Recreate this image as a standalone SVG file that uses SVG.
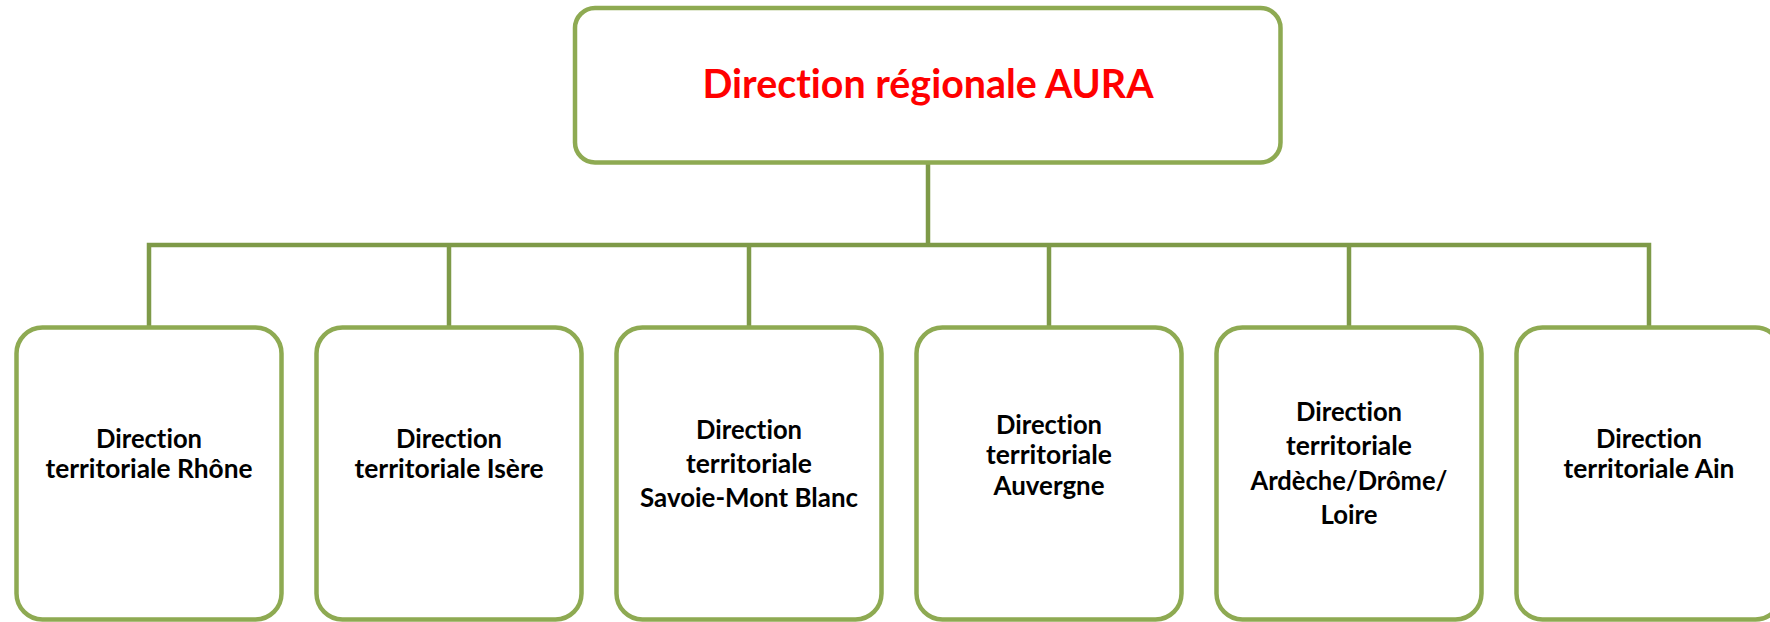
<svg xmlns="http://www.w3.org/2000/svg" width="1770" height="622" viewBox="0 0 1770 622">
<style>
.box{fill:#ffffff;stroke:#8EAA52;stroke-width:4.5}
.conn{fill:none;stroke:#7E9A48;stroke-width:4.5;stroke-linejoin:miter}
.t{font-family:Lato,"Liberation Sans",sans-serif;font-weight:bold;font-size:26px;fill:#000000;text-anchor:middle;font-variant-ligatures:none}
.title{font-family:Lato,"Liberation Sans",sans-serif;font-weight:bold;font-size:40px;fill:#FF0000;text-anchor:middle;font-variant-ligatures:none}
</style>
<rect width="1770" height="622" fill="#ffffff"/>
<g id="connectors">
<path class="conn" d="M928,162 V245"/>
<path class="conn" d="M149,327 V245 H1649 V327"/>
<path class="conn" d="M449,245 V327"/>
<path class="conn" d="M749,245 V327"/>
<path class="conn" d="M1049,245 V327"/>
<path class="conn" d="M1349,245 V327"/>
</g>
<g id="node-aura">
<rect class="box" x="575" y="8" width="705.5" height="154.5" rx="20"/>
<text class="title" x="928" y="98" textLength="451" lengthAdjust="spacingAndGlyphs">Direction régionale AURA</text>
</g>
<g id="node-rhone">
<rect class="box" x="16.5" y="327.5" width="265" height="292" rx="26"/>
<text class="t" x="149" y="448" textLength="106" lengthAdjust="spacingAndGlyphs">Direction</text>
<text class="t" x="149" y="478" textLength="207" lengthAdjust="spacingAndGlyphs">territoriale Rhône</text>
</g>
<g id="node-isere">
<rect class="box" x="316.5" y="327.5" width="265" height="292" rx="26"/>
<text class="t" x="449" y="448" textLength="106" lengthAdjust="spacingAndGlyphs">Direction</text>
<text class="t" x="449" y="478" textLength="189" lengthAdjust="spacingAndGlyphs">territoriale Isère</text>
</g>
<g id="node-savoie">
<rect class="box" x="616.5" y="327.5" width="265" height="292" rx="26"/>
<text class="t" x="749" y="439" textLength="106" lengthAdjust="spacingAndGlyphs">Direction</text>
<text class="t" x="749" y="473" textLength="126" lengthAdjust="spacingAndGlyphs">territoriale</text>
<text class="t" x="749" y="507" textLength="218" lengthAdjust="spacingAndGlyphs">Savoie-Mont Blanc</text>
</g>
<g id="node-auvergne">
<rect class="box" x="916.5" y="327.5" width="265" height="292" rx="26"/>
<text class="t" x="1049" y="434" textLength="106" lengthAdjust="spacingAndGlyphs">Direction</text>
<text class="t" x="1049" y="464" textLength="126" lengthAdjust="spacingAndGlyphs">territoriale</text>
<text class="t" x="1049" y="495" textLength="111" lengthAdjust="spacingAndGlyphs">Auvergne</text>
</g>
<g id="node-ardeche">
<rect class="box" x="1216.5" y="327.5" width="265" height="292" rx="26"/>
<text class="t" x="1349" y="421" textLength="106" lengthAdjust="spacingAndGlyphs">Direction</text>
<text class="t" x="1349" y="455" textLength="126" lengthAdjust="spacingAndGlyphs">territoriale</text>
<text class="t" x="1349" y="490" textLength="197" lengthAdjust="spacingAndGlyphs">Ardèche/Drôme/</text>
<text class="t" x="1349" y="524" textLength="57" lengthAdjust="spacingAndGlyphs">Loire</text>
</g>
<g id="node-ain">
<rect class="box" x="1516.5" y="327.5" width="265" height="292" rx="26"/>
<text class="t" x="1649" y="448" textLength="106" lengthAdjust="spacingAndGlyphs">Direction</text>
<text class="t" x="1649" y="478" textLength="171" lengthAdjust="spacingAndGlyphs">territoriale Ain</text>
</g>
</svg>
